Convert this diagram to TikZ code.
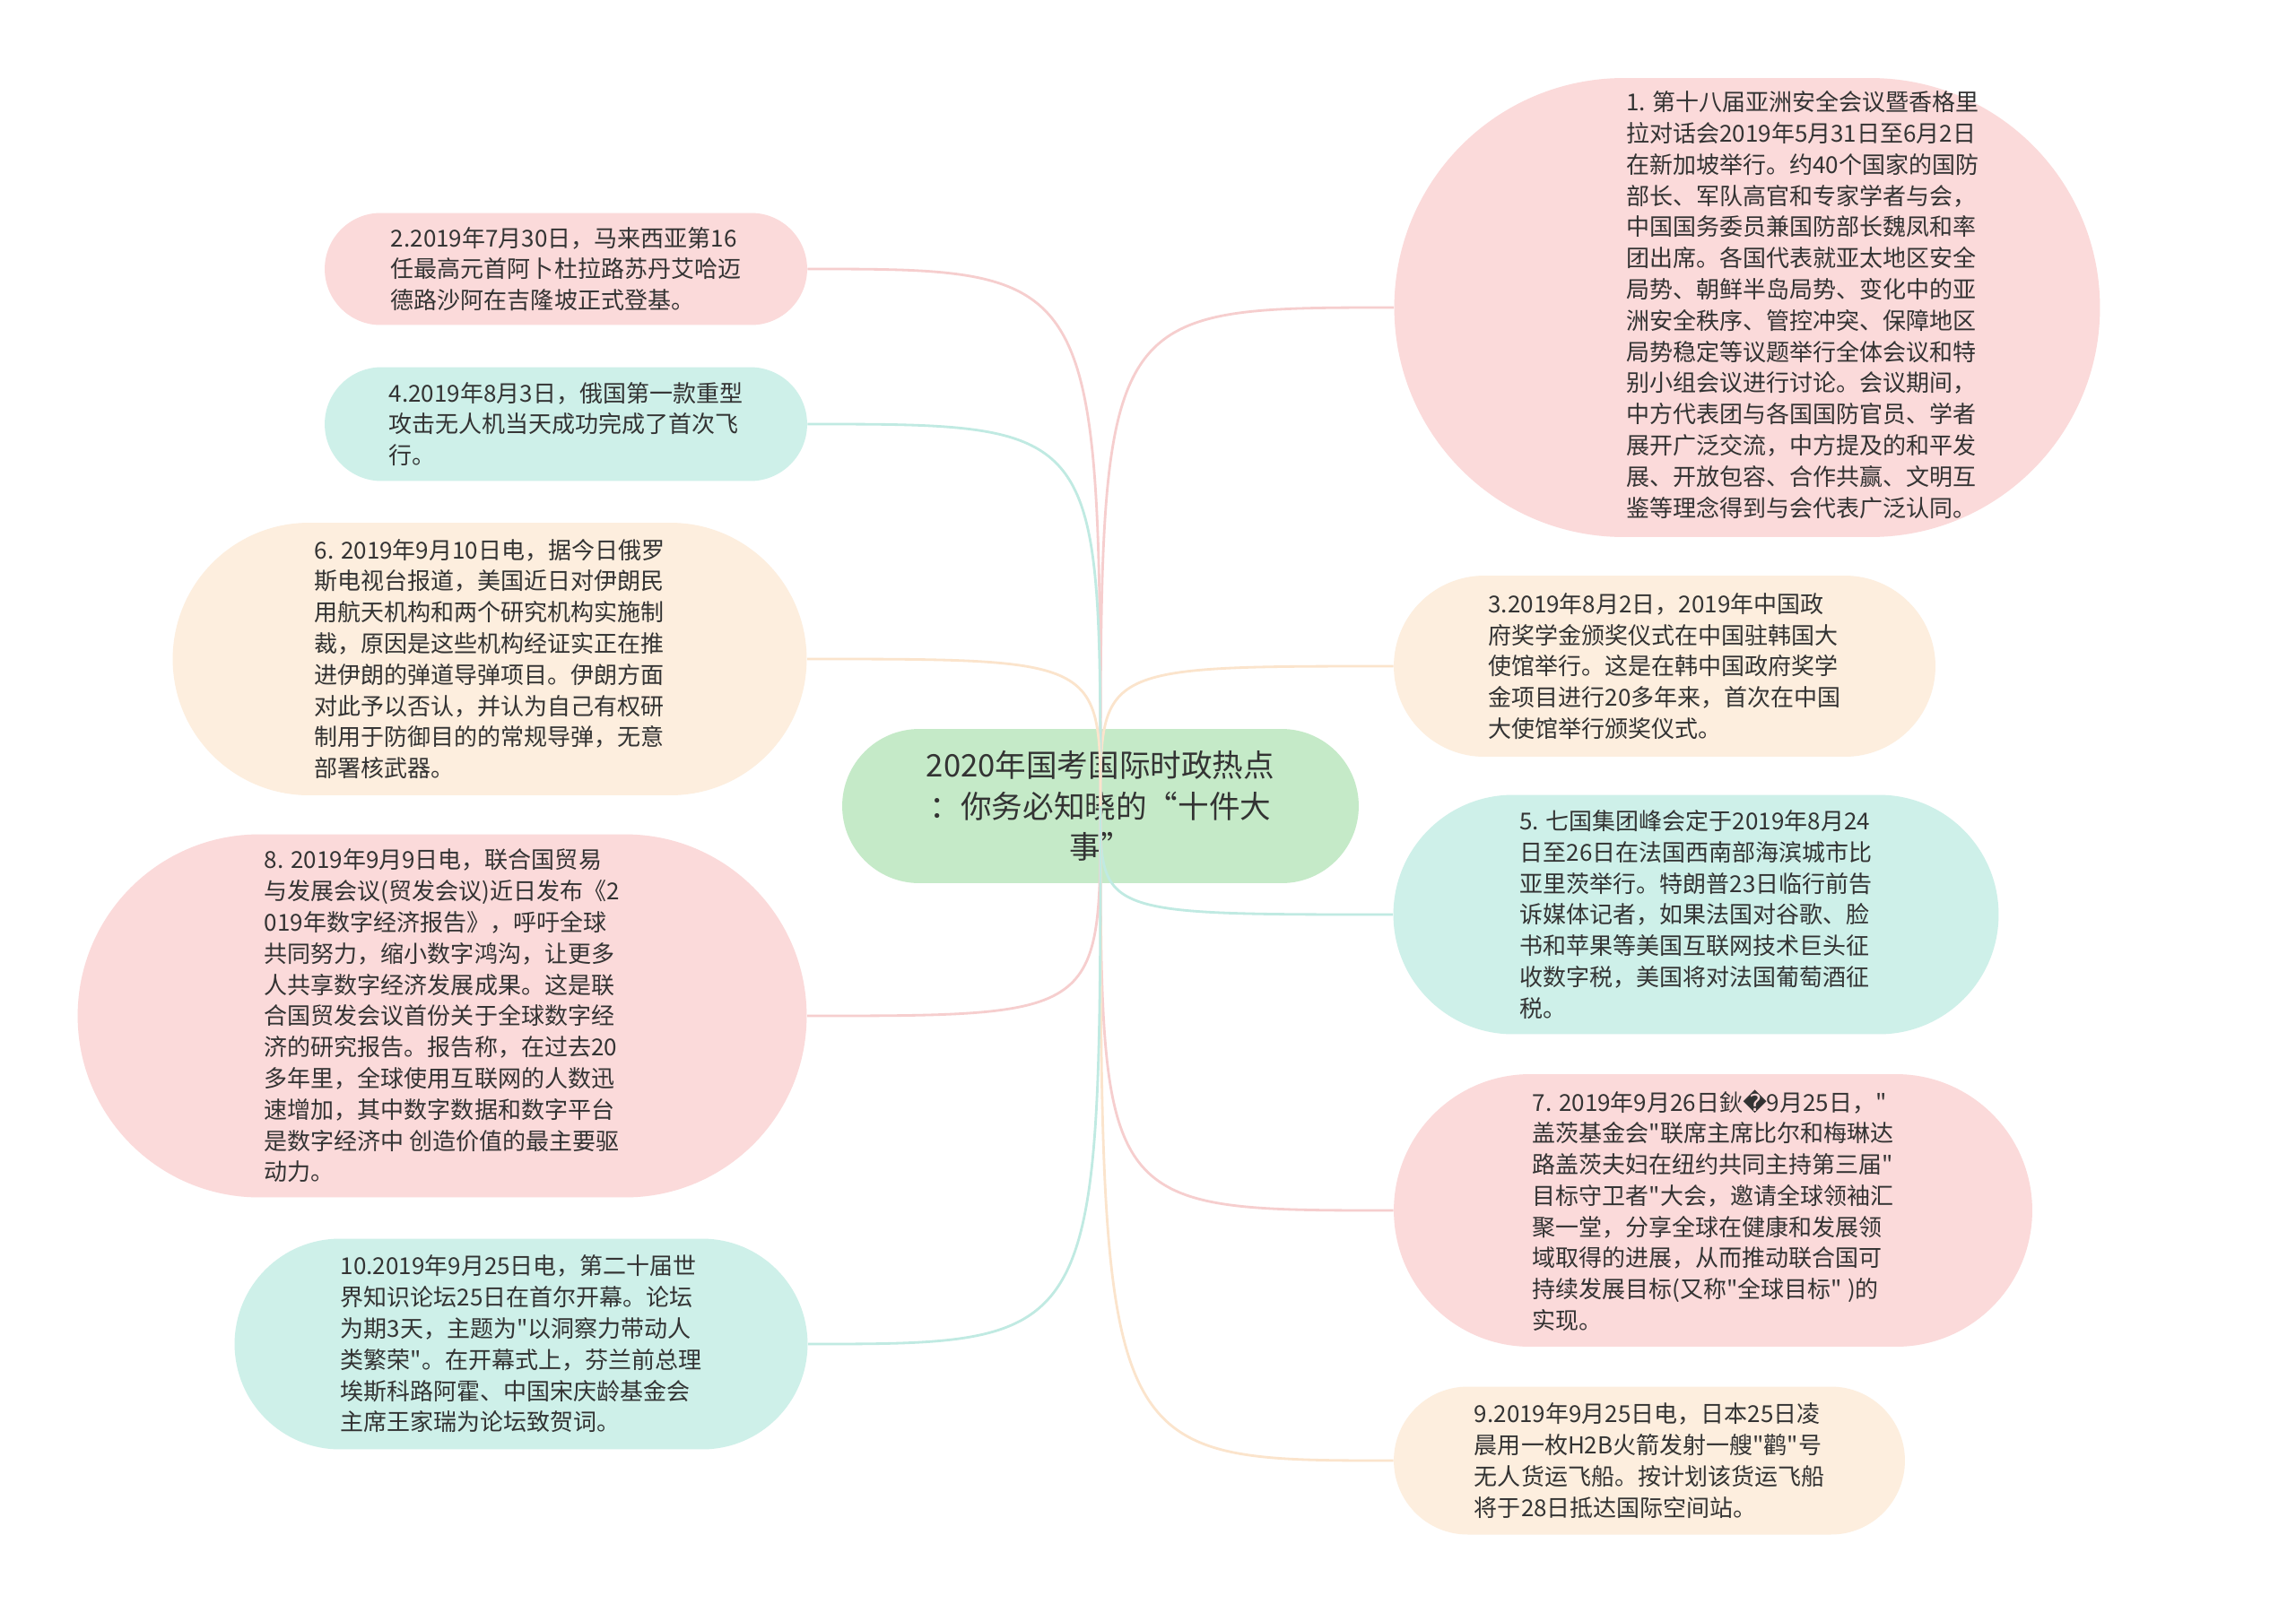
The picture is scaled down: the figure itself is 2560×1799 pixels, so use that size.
\documentclass[tikz,border=0pt]{standalone}
\usepackage{fontspec}
\usepackage{xcolor}
\usepackage{tikz}
\newfontfamily\cjk{Noto Sans CJK SC}
\newfontfamily\simbolo{DejaVu Sans}
\definecolor{texto}{RGB}{51,51,51}
\definecolor{rosa}{RGB}{251,218,218}
\definecolor{turquesa}{RGB}{206,240,233}
\definecolor{pessego}{RGB}{253,238,222}
\definecolor{verde}{RGB}{197,234,200}
\definecolor{linhaRosa}{RGB}{246,206,206}
\definecolor{linhaTurquesa}{RGB}{192,234,226}
\definecolor{linhaPessego}{RGB}{251,228,204}
\tikzset{
    topico/.style={
        rectangle,
        inner sep=0pt,
        align=left,
        text=texto,
        font=\cjk\fontsize{14.8pt}{19.8pt}\selectfont
    },
    central/.style={topico, fill=verde, align=center,
        font=\cjk\fontsize{19.7pt}{26pt}\selectfont},
    ramoRosa/.style={topico, fill=rosa},
    ramoTurquesa/.style={topico, fill=turquesa},
    ramoPessego/.style={topico, fill=pessego},
    ligacao/.style={line width=1.6pt}
}

\begin{document}
\begin{tikzpicture}[x=0.02cm, y=-0.02cm]
    \path[fill=white, use as bounding box] (0,0) rectangle (2560,1799);

    \node[central, minimum width=11.52cm, minimum height=3.44cm, rounded corners=1.72cm] (raiz) at (1227,899)
        {2020年国考国际时政热点\\：你务必知晓的“十件大\\事”};

    % lado direito
    \node[ramoRosa, minimum width=15.74cm, minimum height=10.24cm, rounded corners=5.12cm] (n1) at (1948,343)
        {\hspace*{2.48cm}\begin{tabular}{@{}l@{}}1. 第十八届亚洲安全会议暨香格里\\拉对话会2019年5月31日至6月2日\\在新加坡举行。约40个国家的国防\\部长、军队高官和专家学者与会，\\中国国务委员兼国防部长魏凤和率\\团出席。各国代表就亚太地区安全\\局势、朝鲜半岛局势、变化中的亚\\洲安全秩序、管控冲突、保障地区\\局势稳定等议题举行全体会议和特\\别小组会议进行讨论。会议期间，\\中方代表团与各国国防官员、学者\\展开广泛交流，中方提及的和平发\\展、开放包容、合作共赢、文明互\\鉴等理念得到与会代表广泛认同。\end{tabular}};
    \node[ramoPessego, minimum width=12.08cm, minimum height=4.04cm, rounded corners=2.02cm] (n3) at (1856,743)
        {3.2019年8月2日，2019年中国政\\府奖学金颁奖仪式在中国驻韩国大\\使馆举行。这是在韩中国政府奖学\\金项目进行20多年来，首次在中国\\大使馆举行颁奖仪式。};
    \node[ramoTurquesa, minimum width=13.5cm, minimum height=5.34cm, rounded corners=2.67cm] (n5) at (1891,1020)
        {5. 七国集团峰会定于2019年8月24\\日至26日在法国西南部海滨城市比\\亚里茨举行。特朗普23日临行前告\\诉媒体记者，如果法国对谷歌、脸\\书和苹果等美国互联网技术巨头征\\收数字税，美国将对法国葡萄酒征\\税。};
    \node[ramoRosa, minimum width=14.24cm, minimum height=6.08cm, rounded corners=3.04cm] (n7) at (1910,1350)
        {7. 2019年9月26日鈥{\simbolo\char"FFFD}9月25日，"\\盖茨基金会"联席主席比尔和梅琳达\\路盖茨夫妇在纽约共同主持第三届"\\目标守卫者"大会，邀请全球领袖汇\\聚一堂，分享全球在健康和发展领\\域取得的进展，从而推动联合国可\\持续发展目标(又称"全球目标" )的\\实现。};
    \node[ramoPessego, minimum width=11.4cm, minimum height=3.3cm, rounded corners=1.65cm] (n9) at (1839,1629)
        {9.2019年9月25日电，日本25日凌\\晨用一枚H2B火箭发射一艘"鹳"号\\无人货运飞船。按计划该货运飞船\\将于28日抵达国际空间站。};

    % lado esquerdo
    \node[ramoRosa, minimum width=10.76cm, minimum height=2.5cm, rounded corners=1.25cm] (n2) at (631,300)
        {2.2019年7月30日，马来西亚第16\\任最高元首阿卜杜拉路苏丹艾哈迈\\德路沙阿在吉隆坡正式登基。};
    \node[ramoTurquesa, minimum width=10.76cm, minimum height=2.54cm, rounded corners=1.27cm] (n4) at (631,473)
        {4.2019年8月3日，俄国第一款重型\\攻击无人机当天成功完成了首次飞\\行。};
    \node[ramoPessego, minimum width=14.14cm, minimum height=6.08cm, rounded corners=3.04cm] (n6) at (546,735)
        {6. 2019年9月10日电，据今日俄罗\\斯电视台报道，美国近日对伊朗民\\用航天机构和两个研究机构实施制\\裁，原因是这些机构经证实正在推\\进伊朗的弹道导弹项目。伊朗方面\\对此予以否认，并认为自己有权研\\制用于防御目的的常规导弹，无意\\部署核武器。};
    \node[ramoRosa, minimum width=16.26cm, minimum height=8.1cm, rounded corners=4.05cm] (n8) at (493,1133)
        {8. 2019年9月9日电，联合国贸易\\与发展会议(贸发会议)近日发布《2\\019年数字经济报告》，呼吁全球\\共同努力，缩小数字鸿沟，让更多\\人共享数字经济发展成果。这是联\\合国贸发会议首份关于全球数字经\\济的研究报告。报告称，在过去20\\多年里，全球使用互联网的人数迅\\速增加，其中数字数据和数字平台\\是数字经济中 创造价值的最主要驱\\动力。};
    \node[ramoTurquesa, minimum width=12.78cm, minimum height=4.7cm, rounded corners=2.35cm] (n10) at (581,1499)
        {10.2019年9月25日电，第二十届世\\界知识论坛25日在首尔开幕。论坛\\为期3天，主题为"以洞察力带动人\\类繁荣"。在开幕式上，芬兰前总理\\埃斯科路阿霍、中国宋庆龄基金会\\主席王家瑞为论坛致贺词。};

    % ligacoes
    \draw[ligacao, linhaRosa] (raiz.center) .. controls (raiz.center |- n1.west) .. (n1.west);
    \draw[ligacao, linhaPessego] (raiz.center) .. controls (raiz.center |- n3.west) .. (n3.west);
    \draw[ligacao, linhaTurquesa] (raiz.center) .. controls (raiz.center |- n5.west) .. (n5.west);
    \draw[ligacao, linhaRosa] (raiz.center) .. controls (raiz.center |- n7.west) .. (n7.west);
    \draw[ligacao, linhaPessego] (raiz.center) .. controls (raiz.center |- n9.west) .. (n9.west);
    \draw[ligacao, linhaRosa] (raiz.center) .. controls (raiz.center |- n2.east) .. (n2.east);
    \draw[ligacao, linhaTurquesa] (raiz.center) .. controls (raiz.center |- n4.east) .. (n4.east);
    \draw[ligacao, linhaPessego] (raiz.center) .. controls (raiz.center |- n6.east) .. (n6.east);
    \draw[ligacao, linhaRosa] (raiz.center) .. controls (raiz.center |- n8.east) .. (n8.east);
    \draw[ligacao, linhaTurquesa] (raiz.center) .. controls (raiz.center |- n10.east) .. (n10.east);
\end{tikzpicture}
\end{document}
